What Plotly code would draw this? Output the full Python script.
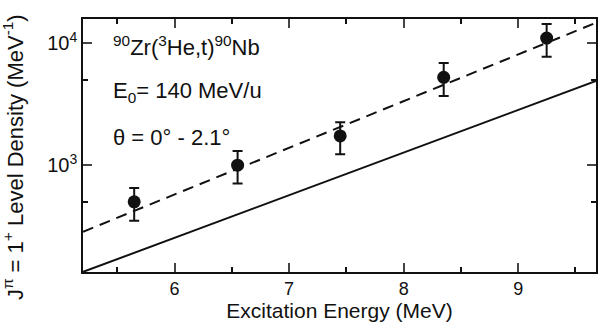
import plotly.graph_objects as go

# data points (excitation energy MeV, level density MeV^-1)
energy = [5.647, 6.55, 7.446, 8.35, 9.249]
density = [500, 1000, 1738, 5260, 11050]
density_upper = [650, 1310, 2250, 6900, 14400]
density_lower = [349, 708, 1232, 3700, 7770]

# model curves (straight on log scale)
dashed_x = [5.2, 9.68]
dashed_y = [284, 14760]
solid_x = [5.2, 9.68]
solid_y = [133, 4910]

x_ticks = [6, 7, 8, 9]
y_ticks = [1000, 10000]
y_ticktext = ["10<sup>3</sup>", "10<sup>4</sup>"]
y_minor = [500, 5000]

FONT = "Liberation Sans, Arial, Helvetica, sans-serif"

fig = go.Figure()
fig.add_trace(go.Scatter(x=solid_x, y=solid_y, mode="lines",
                         line=dict(color="#111", width=2), showlegend=False))
fig.add_trace(go.Scatter(x=dashed_x, y=dashed_y, mode="lines",
                         line=dict(color="#111", width=2, dash="11px,7px"), showlegend=False))
fig.add_trace(go.Scatter(
    x=energy, y=density, mode="markers",
    marker=dict(color="#111", size=13),
    error_y=dict(type="data", symmetric=False,
                 array=[u - v for u, v in zip(density_upper, density)],
                 arrayminus=[v - l for v, l in zip(density, density_lower)],
                 color="#111", thickness=2, width=5),
    showlegend=False))

fig.update_layout(
    width=599, height=327,
    margin=dict(l=83, r=1, t=19, b=55),
    plot_bgcolor="white", paper_bgcolor="white",
    font=dict(family=FONT, color="#111", size=17),
    xaxis=dict(range=[5.2, 9.68], tickvals=x_ticks, ticks="inside", ticklen=9, tickwidth=1.5,
               showline=True, linewidth=1.5, linecolor="#111", mirror="ticks",
               showgrid=False, zeroline=False, tickfont=dict(size=18),
               minor=dict(dtick=0.5, tick0=5.5, ticks="inside", ticklen=5, tickwidth=1.5, tickcolor="#111"),
               title=dict(text="Excitation Energy (MeV)", font=dict(size=21), standoff=4)),
    yaxis=dict(type="log", range=[2.123, 4.2], tickvals=y_ticks, ticktext=y_ticktext,
               ticks="inside", ticklen=9, tickwidth=1.5,
               showline=True, linewidth=1.5, linecolor="#111", mirror="ticks",
               showgrid=False, zeroline=False, tickfont=dict(size=20),
               minor=dict(tickmode="array", tickvals=y_minor, ticks="inside", ticklen=5,
                          tickwidth=1.5, tickcolor="#111")),
)

ann_font = dict(family=FONT, size=22, color="#111")
fig.add_annotation(xref="paper", yref="paper", x=0.054, y=0.893, xanchor="left", yanchor="middle",
                   text="<sup>90</sup>Zr(<sup>3</sup>He,t)<sup>90</sup>Nb", showarrow=False, font=ann_font)
fig.add_annotation(xref="paper", yref="paper", x=0.054, y=0.711, xanchor="left", yanchor="middle",
                   text="E<sub>0</sub>= 140 MeV/u", showarrow=False, font=ann_font)
fig.add_annotation(xref="paper", yref="paper", x=0.054, y=0.530, xanchor="left", yanchor="middle",
                   text="θ = 0° - 2.1°", showarrow=False, font=ann_font)
fig.add_annotation(xref="paper", yref="paper", x=-0.136, y=0.455, xanchor="center", yanchor="middle",
                   textangle=-90, showarrow=False, font=ann_font,
                   text="J<sup>π</sup> = 1<sup>+</sup> Level Density (MeV<sup>-1</sup>)")

fig.write_html("out.html")
